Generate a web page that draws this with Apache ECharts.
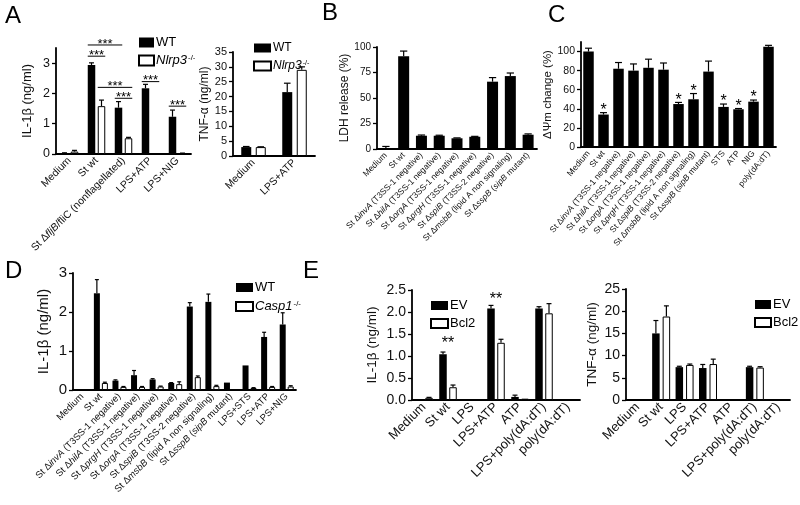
<!DOCTYPE html>
<html><head><meta charset="utf-8">
<script src="https://cdn.jsdelivr.net/npm/echarts@6/dist/echarts.min.js"></script>
<style>html,body{margin:0;padding:0;background:#fff}#c{width:800px;height:505px}</style>
</head><body><div id="c"></div>
<script>
// ---------- DATA ----------
// Panel A (IL-1β)
const catA = ['Medium', 'St wt', 'St ΔfljB/fliC (nonflagellated)', 'LPS+ATP', 'LPS+NIG'];
const aWT = [0.03, 2.94, 1.53, 2.17, 1.23];
const aWTerr = [0.01, 0.07, 0.2, 0.13, 0.22];
const aKO = [0.08, 1.58, 0.52, 0.02, 0.02];
const aKOerr = [0.04, 0.2, 0.03, 0, 0.01];
// brackets: [cat1, bar1(-1 WT / 1 KO), cat2, bar2, y]
const sigA = [[1, -1, 2, -1, 3.6], [1, -1, 1, 1, 3.23], [1, 1, 2, 1, 2.2], [2, -1, 2, 1, 1.84], [3, -1, 3, 1, 2.39], [4, -1, 4, 1, 1.58]];
const ticksA = [0, 1, 2, 3];
// Panel A (TNF-α)
const catAT = ['Medium', 'LPS+ATP'];
const atWT = [3, 21.5];
const atWTerr = [0.2, 3];
const atKO = [3, 29];
const atKOerr = [0.1, 1];
const ticksAT = [0, 5, 10, 15, 20, 25, 30, 35];
// Panel B
const catB = ['Medium', 'St wt', 'St ΔinvA (T3SS-1 negative)', 'St ΔhilA (T3SS-1 negative)', 'St ΔorgA (T3SS-1 negative)', 'St ΔprgH (T3SS-1 negative)', 'St ΔspiB (T3SS-2 negative)', 'St ΔmsbB (lipid A non signaling)', 'St ΔsspB (sipB mutant)'];
const ldh = [1, 91, 13, 13, 10.5, 12, 66, 71.5, 14];
const ldhErr = [1.5, 5, 0.7, 0.5, 0.4, 0.4, 4, 3, 0.8];
const ticksB = [0, 25, 50, 75, 100];
// Panel C
const catC = ['Medium', 'St wt', 'St ΔinvA (T3SS-1 negative)', 'St ΔhilA (T3SS-1 negative)', 'St ΔorgA (T3SS-1 negative)', 'St ΔprgH (T3SS-1 negative)', 'St ΔspiB (T3SS-2 negative)', 'St ΔmsbB (lipid A non signaling)', 'St ΔsspB (sipB mutant)', 'STS', 'ATP', 'NIG', 'poly(dA:dT)'];
const psi = [100, 34, 82, 80, 83, 81, 45, 50, 79, 42, 39.5, 47.5, 105];
const psiErr = [3.5, 2, 6.5, 7, 9, 7, 1.7, 6, 11, 3, 0.8, 1.7, 1.5];
const psiSig = [0, 1, 0, 0, 0, 0, 1, 1, 0, 1, 1, 1, 0];
const ticksC = [0, 20, 40, 60, 80, 100];
// Panel D
const catD = ['Medium', 'St wt', 'St ΔinvA (T3SS-1 negative)', 'St ΔhilA (T3SS-1 negative)', 'St ΔprgH (T3SS-1 negative)', 'St ΔorgA (T3SS-1 negative)', 'St ΔspiB (T3SS-2 negative)', 'St ΔmsbB (lipid A non signaling)', 'St ΔsspB (sipB mutant)', 'LPS+STS', 'LPS+ATP', 'LPS+NIG'];
const dWT = [0, 2.48, 0.24, 0.38, 0.27, 0.18, 2.14, 2.26, 0.19, 0.63, 1.36, 1.68];
const dWTerr = [0, 0.35, 0.02, 0.12, 0.02, 0.01, 0.1, 0.2, 0, 0, 0.12, 0.3];
const dKO = [0, 0.18, 0.08, 0.08, 0.09, 0.15, 0.33, 0.1, 0, 0.05, 0.08, 0.09];
const dKOerr = [0, 0.02, 0.01, 0.01, 0.01, 0.06, 0.03, 0.02, 0, 0.01, 0.01, 0.02];
const ticksD = [0, 1, 2, 3];
// Panel E
const catE = ['Medium', 'St wt', 'LPS', 'LPS+ATP', 'ATP', 'LPS+poly(dA:dT)', 'poly(dA:dT)'];
const eIlEV = [0.02, 1.04, 0.02, 2.08, 0.07, 2.08, 0];
const eIlEVerr = [0, 0.05, 0, 0.07, 0.04, 0.04, 0];
const eIlBcl = [0.05, 0.29, 0.02, 1.3, 0.03, 1.97, 0];
const eIlBclErr = [0.01, 0.05, 0, 0.08, 0, 0.22, 0];
const sigE = [[1, 1.36], [3, 2.35]];
const ticksE1 = [0, 0.5, 1, 1.5, 2, 2.5];
const eTnfEV = [0.1, 15, 7.4, 7.2, 0.1, 7.4, 0];
const eTnfEVerr = [0, 2.9, 0.2, 0.8, 0, 0.2, 0];
const eTnfBcl = [0, 18.8, 7.9, 8.1, 0, 7.3, 0];
const eTnfBclErr = [0, 2.4, 0.2, 1.1, 0, 0.2, 0];
const ticksE2 = [0, 5, 10, 15, 20, 25];

// ---------- RENDER ----------
const FONT = '"Liberation Sans", Arial, Helvetica, sans-serif';
const chart = echarts.init(document.getElementById('c'), null, {renderer: 'canvas'});

const grids = [], xAxes = [], yAxes = [], series = [], legends = [];

function catFmt(s) {
  return s.replace(/Δ(\w+)/, 'Δ{i|$1}').replace(/\((sipB)/, '({i|$1}');
}

function addPanel(p) {
  const gi = grids.length;
  grids.push(Object.assign({containLabel: false, outerBoundsMode: 'none'}, p.grid));
  xAxes.push({
    type: 'category', gridIndex: gi, data: p.cats,
    axisLine: {lineStyle: {color: '#000', width: 1.8}},
    axisTick: {alignWithLabel: true, length: 4, lineStyle: {color: '#000', width: 1.3}},
    axisLabel: {interval: 0, rotate: p.rot || 45, margin: 5, color: '#111', fontSize: p.xFont, fontFamily: FONT,
      formatter: catFmt, rich: {i: {fontStyle: 'italic', fontSize: p.xFont, fontFamily: FONT, color: '#111'}}}
  });
  yAxes.push({
    type: 'value', gridIndex: gi, min: 0, max: p.yMax,
    name: p.yName, nameLocation: 'middle', nameGap: p.nameGap, nameRotate: 90,
    nameTextStyle: {fontSize: p.nameFont, color: '#111', fontFamily: FONT},
    splitLine: {show: false},
    axisLine: {show: true, lineStyle: {color: '#000', width: 1.8}},
    axisTick: {show: true, length: 4, customValues: p.ticks, lineStyle: {color: '#000', width: 1.3}},
    axisLabel: {customValues: p.ticks, margin: 6, color: '#111', fontSize: p.yFont, fontFamily: FONT,
      formatter: p.yFmt || (v => String(v))}
  });
  const w = p.barW, g = p.gap || 0;
  const n = p.sets.length;
  p.sets.forEach((s, k) => {
    const off = n === 1 ? 0 : (k === 0 ? -(w + g) / 2 : (w + g) / 2);
    series.push({
      type: 'bar', name: s.name, xAxisIndex: gi, yAxisIndex: gi, data: s.vals,
      barWidth: w, barGap: (g / w * 100) + '%', silent: true,
      itemStyle: {color: s.open ? '#fff' : '#000', borderColor: '#000', borderWidth: s.open ? 1 : 0}
    });
    series.push({
      type: 'custom', xAxisIndex: gi, yAxisIndex: gi, silent: true, z: 3,
      data: s.vals.map((v, i) => [i, v, s.errs[i]]),
      encode: {x: 0, y: 1},
      renderItem: (params, api) => {
        const e = api.value(2);
        if (!e) return;
        const c = api.coord([api.value(0), api.value(1)]);
        const t = api.coord([api.value(0), api.value(1) + e]);
        const x = c[0] + off;
        const ch = w * 0.33;
        return {type: 'group', children: [
          {type: 'line', shape: {x1: x, y1: c[1], x2: x, y2: t[1]}, style: {stroke: '#000', lineWidth: 1.2}},
          {type: 'line', shape: {x1: x - ch, y1: t[1], x2: x + ch, y2: t[1]}, style: {stroke: '#000', lineWidth: 1.2}}
        ]};
      }
    });
  });
  if (p.legend) {
    legends.push(Object.assign({
      orient: 'vertical', icon: 'rect', selectedMode: false,
      data: p.sets.map(s => s.name),
      textStyle: {fontSize: p.legend.font, color: '#000', fontFamily: FONT, padding: [0, 0, 0, -3],
        rich: {i: {fontStyle: 'italic', fontSize: p.legend.font, fontFamily: FONT},
               s: {fontSize: p.legend.font * 0.6, verticalAlign: 'top', fontFamily: FONT, padding: [0, 0, 0, 1]}}},
      formatter: p.legend.fmt
    }, p.legend.pos));
  }
  return {gi, off: w + g, w};
}

const koFmt = nm => (nm === 'WT' || nm === 'EV' || nm === 'Bcl2') ? nm : '{i|' + nm + '}{s|-/-}';

// A IL-1b
const pa = addPanel({grid: {left: 56, top: 48, width: 135, height: 106}, cats: catA, yMax: 3.5, ticks: ticksA,
  yName: 'IL-1β (ng/ml)', nameGap: 22, nameFont: 13, yFont: 12.5, xFont: 10.5, barW: 7.5, gap: 2.5,
  sets: [{name: 'WT', vals: aWT, errs: aWTerr}, {name: 'Nlrp3', vals: aKO, errs: aKOerr, open: true}],
  legend: {font: 13, fmt: koFmt, pos: {left: 133, top: 31, itemWidth: 15, itemHeight: 10, itemGap: 5}}});
series.push({
  type: 'custom', xAxisIndex: pa.gi, yAxisIndex: pa.gi, silent: true, z: 4,
  data: sigA, encode: {x: [0, 2], y: 4},
  renderItem: (params, api) => {
    const h = pa.off / 2;
    const x1 = api.coord([api.value(0), 0])[0] + api.value(1) * h - pa.w / 2;
    const x2 = api.coord([api.value(2), 0])[0] + api.value(3) * h + pa.w / 2;
    const y = api.coord([0, api.value(4)])[1];
    return {type: 'group', children: [
      {type: 'line', shape: {x1, y1: y, x2, y2: y}, style: {stroke: '#000', lineWidth: 1}},
      {type: 'text', x: (x1 + x2) / 2, y: y - 1, style: {text: '***', fontSize: 13, fontFamily: FONT, fill: '#000', align: 'center', verticalAlign: 'middle'}}
    ]};
  }
});

// A TNF
addPanel({grid: {left: 233, top: 52, width: 82, height: 104}, cats: catAT, yMax: 35, ticks: ticksAT,
  yName: 'TNF-α (ng/ml)', nameGap: 19, nameFont: 12, yFont: 11, xFont: 10.5, barW: 10, gap: 4.5,
  sets: [{name: 'WT', vals: atWT, errs: atWTerr}, {name: 'Nlrp3', vals: atKO, errs: atKOerr, open: true}],
  legend: {font: 12, fmt: koFmt, pos: {left: 248, top: 37, itemWidth: 17, itemHeight: 9, itemGap: 6}}});

// B
addPanel({grid: {left: 377, top: 47, width: 160, height: 102}, cats: catB, yMax: 100, ticks: ticksB,
  yName: 'LDH release (%)', nameGap: 26, nameFont: 12, yFont: 10, xFont: 8.5, barW: 11,
  sets: [{name: 'LDH', vals: ldh, errs: ldhErr}]});

// C
const pc = addPanel({grid: {left: 581, top: 42, width: 195, height: 105}, cats: catC, yMax: 110, ticks: ticksC,
  yName: 'ΔΨm change (%)', nameGap: 23, nameFont: 11.5, yFont: 10.5, xFont: 8.5, rot: 50, barW: 10.5,
  sets: [{name: 'psi', vals: psi, errs: psiErr}]});
series.push({
  type: 'custom', xAxisIndex: pc.gi, yAxisIndex: pc.gi, silent: true, z: 4,
  data: psi.map((v, i) => [i, v + psiErr[i], psiSig[i]]), encode: {x: 0, y: 1},
  renderItem: (params, api) => {
    if (!api.value(2)) return;
    const c = api.coord([api.value(0), api.value(1)]);
    return {type: 'text', x: c[0], y: c[1] - 2, style: {text: '*', fontSize: 16, fontFamily: FONT, fill: '#000', align: 'center', verticalAlign: 'middle'}};
  }
});

// D
addPanel({grid: {left: 73, top: 273, width: 223, height: 117}, cats: catD, yMax: 3, ticks: ticksD,
  yName: 'IL-1β (ng/ml)', nameGap: 22, nameFont: 15, yFont: 15, xFont: 9.5, barW: 6, gap: 2,
  sets: [{name: 'WT', vals: dWT, errs: dWTerr}, {name: 'Casp1', vals: dKO, errs: dKOerr, open: true}],
  legend: {font: 13, fmt: koFmt, pos: {left: 230, top: 276, itemWidth: 17, itemHeight: 9, itemGap: 6}}});

// E IL-1b
const pe = addPanel({grid: {left: 412, top: 290, width: 168, height: 110}, cats: catE, yMax: 2.5, ticks: ticksE1,
  yName: 'IL-1β (ng/ml)', nameGap: 33, nameFont: 13.5, yFont: 14, xFont: 13, barW: 7.5, gap: 2.5,
  yFmt: v => v.toFixed(1),
  sets: [{name: 'EV', vals: eIlEV, errs: eIlEVerr}, {name: 'Bcl2', vals: eIlBcl, errs: eIlBclErr, open: true}],
  legend: {font: 13, fmt: koFmt, pos: {left: 425, top: 294, itemWidth: 17, itemHeight: 9, itemGap: 5}}});
series.push({
  type: 'custom', xAxisIndex: pe.gi, yAxisIndex: pe.gi, silent: true, z: 4,
  data: sigE, encode: {x: 0, y: 1},
  renderItem: (params, api) => {
    const c = api.coord([api.value(0), api.value(1)]);
    return {type: 'text', x: c[0], y: c[1] + 3, style: {text: '**', fontSize: 16, fontFamily: FONT, fill: '#000', align: 'center', verticalAlign: 'middle'}};
  }
});

// E TNF
addPanel({grid: {left: 626, top: 289, width: 164, height: 111}, cats: catE, yMax: 25, ticks: ticksE2,
  yName: 'TNF-α (ng/ml)', nameGap: 27, nameFont: 13.5, yFont: 14, xFont: 13, barW: 7.5, gap: 3,
  sets: [{name: 'EV', vals: eTnfEV, errs: eTnfEVerr}, {name: 'Bcl2', vals: eTnfBcl, errs: eTnfBclErr, open: true}],
  legend: {font: 13, fmt: koFmt, pos: {left: 749, top: 293, itemWidth: 16, itemHeight: 9, itemGap: 5}}});

const letters = [['A', 5, 4], ['B', 322, 1], ['C', 548, 3], ['D', 5, 259], ['E', 303, 259]];

chart.setOption({
  animation: false,
  backgroundColor: '#fff',
  textStyle: {fontFamily: FONT},
  grid: grids, xAxis: xAxes, yAxis: yAxes, series: series, legend: legends,
  graphic: letters.map(l => ({type: 'text', left: l[1], top: l[2], style: {text: l[0], fontSize: 24, fontFamily: FONT, fill: '#000'}}))
});
</script></body></html>
